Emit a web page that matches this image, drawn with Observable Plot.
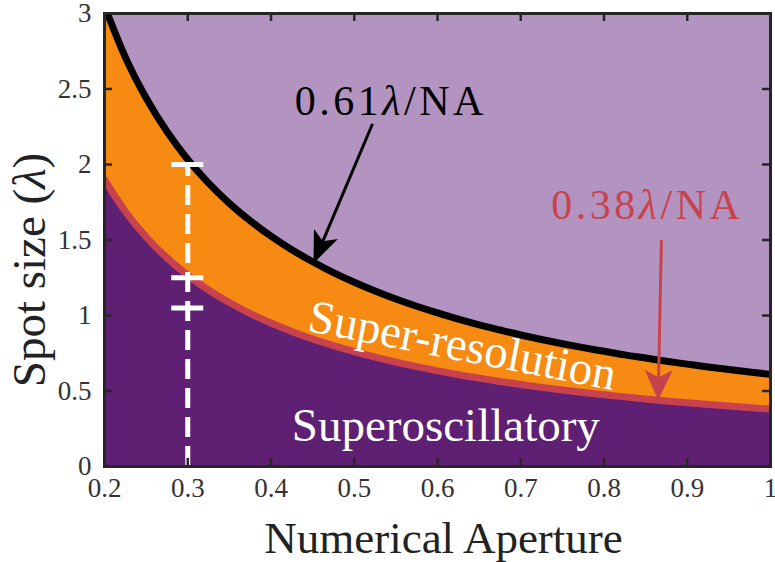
<!DOCTYPE html>
<html>
<head>
<meta charset="utf-8">
<script src="https://cdn.jsdelivr.net/npm/d3@7"></script>
<script src="https://cdn.jsdelivr.net/npm/@observablehq/plot@0.6"></script>
<style>
  html, body { margin: 0; padding: 0; background: #fff; }
  #chart svg { display: block; }
</style>
</head>
<body>
<div id="chart"></div>
<script>
// ---- data ----
const numericalAperture = [0.2, 0.225, 0.25, 0.275, 0.3, 0.325, 0.35, 0.375, 0.4, 0.425, 0.45, 0.475, 0.5, 0.525, 0.55, 0.575, 0.6, 0.625, 0.65, 0.675, 0.7, 0.725, 0.75, 0.775, 0.8, 0.825, 0.85, 0.875, 0.9, 0.925, 0.95, 0.975, 1.0];
// 0.61λ/NA boundary (spot size, in λ)
const diffractionSpot = [3.050, 2.711, 2.440, 2.218, 2.033, 1.877, 1.743, 1.627, 1.525, 1.435, 1.356, 1.284, 1.220, 1.162, 1.109, 1.061, 1.017, 0.976, 0.938, 0.904, 0.871, 0.841, 0.813, 0.787, 0.763, 0.739, 0.718, 0.697, 0.678, 0.659, 0.642, 0.626, 0.610];
// 0.38λ/NA boundary (spot size, in λ)
const superoscSpot = [1.900, 1.689, 1.520, 1.382, 1.267, 1.169, 1.086, 1.013, 0.950, 0.894, 0.844, 0.800, 0.760, 0.724, 0.691, 0.661, 0.633, 0.608, 0.585, 0.563, 0.543, 0.524, 0.507, 0.490, 0.475, 0.461, 0.447, 0.434, 0.422, 0.411, 0.400, 0.390, 0.380];
const xTicks = [0.2, 0.3, 0.4, 0.5, 0.6, 0.7, 0.8, 0.9, 1];
const yTicks = [0, 0.5, 1, 1.5, 2, 2.5, 3];
const measureNA = [0.3];
const measureLevels = [2.0, 1.25, 1.05];
const annotations = [
  {text: "0.61λ/NA", x: 0.544, y: 2.42, color: "#000000"},
  {text: "0.38λ/NA", x: 0.852, y: 1.73, color: "#C8424E"}
];
const blackArrow = [{x1: 0.522, y1: 2.27, x2: 0.451, y2: 1.345}];
const redArrow = [{x1: 0.869, y1: 1.50, x2: 0.865, y2: 0.44}];
const regionLabels = [
  {text: "Super-resolution", x: 0.630, y: 0.80, rotate: 11},
  {text: "Superoscillatory", x: 0.610, y: 0.27, rotate: 0}
];

const rows = numericalAperture.map((x, i) => ({x, hi: diffractionSpot[i], lo: superoscSpot[i]}));

const C = {lilac: "#B394C0", orange: "#F68A13", red: "#C8424E", purple: "#5F1F73", frame: "#262626"};
const serif = "'Liberation Serif', 'Times New Roman', serif";
const W = 775, H = 562, ML = 104, MR = 5, MT = 13, MB = 96;
const FW = W - ML - MR, FH = H - MT - MB, TL = 8;

const plot = Plot.plot({
  width: W, height: H,
  marginLeft: ML, marginRight: MR, marginTop: MT, marginBottom: MB,
  x: {domain: [0.2, 1]},
  y: {domain: [0, 3]},
  style: {background: "#fff", fontFamily: serif},
  marks: [
    Plot.frame({fill: C.lilac, stroke: null}),
    Plot.areaY(rows, {x: "x", y1: "lo", y2: "hi", fill: C.orange, curve: "monotone-x", clip: true}),
    Plot.areaY(rows, {x: "x", y1: 0, y2: "lo", fill: C.purple, curve: "monotone-x", clip: true}),
    Plot.lineY(rows, {x: "x", y: "lo", stroke: C.red, strokeWidth: 7, curve: "monotone-x", clip: true}),
    Plot.lineY(rows, {x: "x", y: "hi", stroke: "#000", strokeWidth: 7, curve: "monotone-x", clip: true}),
    // measurement bar
    Plot.ruleX(measureNA, {x: d => d, y1: 0, y2: measureLevels[0], stroke: "#fff", strokeWidth: 5, strokeDasharray: "20,9"}),
    Plot.ruleY(measureLevels, {y: d => d, x1: measureNA[0], x2: measureNA[0], insetLeft: -16, insetRight: -16, stroke: "#fff", strokeWidth: 5}),
    // arrows (first link = black, second link = red)
    Plot.link(blackArrow, {x1: "x1", y1: "y1", x2: "x2", y2: "y2", stroke: "#000", strokeWidth: 3}),
    Plot.link(redArrow, {x1: "x1", y1: "y1", x2: "x2", y2: "y2", stroke: C.red, strokeWidth: 3}),
    // formula labels
    Plot.text(annotations, {x: "x", y: "y", text: "text", fill: "color", fontSize: 42, fontFamily: serif, textAnchor: "middle", lineAnchor: "middle"}),
    // region labels
    Plot.text(regionLabels, {x: "x", y: "y", text: "text", rotate: "rotate", fill: "#fff", fontSize: 47, fontFamily: serif, textAnchor: "middle", lineAnchor: "middle"}),
    // frame and inward ticks
    Plot.frame({stroke: C.frame, strokeWidth: 3}),
    Plot.ruleX(xTicks, {x: d => d, insetTop: FH - TL, stroke: C.frame, strokeWidth: 2.5}),
    Plot.ruleX(xTicks, {x: d => d, insetBottom: FH - TL, stroke: C.frame, strokeWidth: 2.5}),
    Plot.ruleY(yTicks, {y: d => d, insetRight: FW - TL, stroke: C.frame, strokeWidth: 2.5}),
    Plot.ruleY(yTicks, {y: d => d, insetLeft: FW - TL, stroke: C.frame, strokeWidth: 2.5}),
    // axes
    Plot.axisX(xTicks, {tickSize: 0, tickPadding: 11, fontSize: 27, fontFamily: serif, color: "#333", label: null, tickFormat: d => String(d)}),
    Plot.axisY(yTicks, {tickSize: 0, tickPadding: 13, fontSize: 27, fontFamily: serif, color: "#333", label: null, tickFormat: d => String(d)}),
    // axis titles
    Plot.text(["Numerical Aperture"], {frameAnchor: "bottom", dx: 6, dy: 72, text: d => d, fontSize: 45, fontFamily: serif, fill: "#222", textAnchor: "middle", lineAnchor: "middle"}),
    Plot.text(["Spot size (λ)"], {frameAnchor: "left", dx: -75, dy: 30, rotate: -90, text: d => d, fontSize: 47, fontFamily: serif, fill: "#222", textAnchor: "middle", lineAnchor: "middle"})
  ]
});

// filled arrowheads
const svg = d3.select(plot);
const defs = svg.insert("defs", ":first-child");
function head(id, color, len, wid) {
  defs.append("marker").attr("id", id).attr("viewBox", "0 0 10 10").attr("refX", 10).attr("refY", 5)
    .attr("markerUnits", "userSpaceOnUse").attr("markerWidth", len).attr("markerHeight", wid)
    .attr("preserveAspectRatio", "none").attr("orient", "auto")
    .append("path").attr("d", "M0,0L10,5L0,10L2.5,5Z").attr("fill", color);
}
head("head-black", "#000", 32, 26);
head("head-red", C.red, 30, 28);
const linkGroups = svg.selectAll('g[aria-label="link"]').nodes();
if (linkGroups[0]) d3.select(linkGroups[0]).selectAll("path, line").attr("marker-end", "url(#head-black)");
if (linkGroups[1]) d3.select(linkGroups[1]).selectAll("path, line").attr("marker-end", "url(#head-red)");

// serif everywhere, italic lambda + spacing for formula labels
svg.selectAll("text").style("font-family", serif);
svg.selectAll("text").each(function() {
  const el = d3.select(this);
  if (this.querySelector("tspan")) return;
  const t = this.textContent;
  if (!t.includes("λ")) return;
  const parts = t.split("λ");
  el.text(null);
  parts.forEach((p, i) => {
    if (p) el.append("tspan").text(p);
    if (i < parts.length - 1) el.append("tspan").attr("font-style", "italic").text("λ");
  });
  if (t.includes("/NA")) el.attr("letter-spacing", "3.5px");
});

document.getElementById("chart").appendChild(plot);
</script>
</body>
</html>
